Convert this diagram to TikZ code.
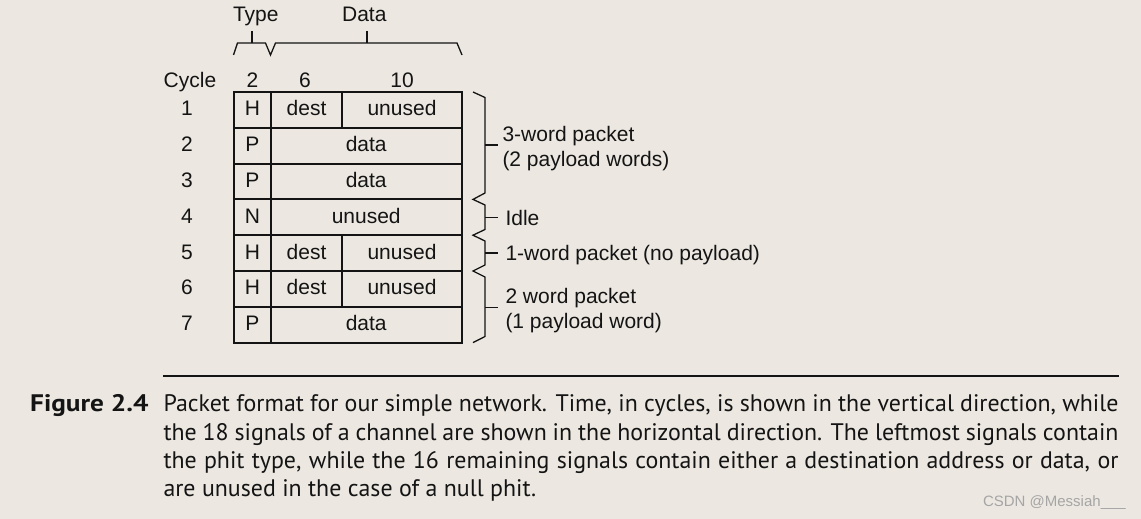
\documentclass[tikz,border=0pt]{standalone}
\usepackage{fontspec}
\setmainfont{Liberation Sans}
\newfontfamily\capfont{PT Sans}
\definecolor{bg}{RGB}{236,232,225}
\definecolor{ink}{RGB}{20,20,20}
\definecolor{wm}{RGB}{165,165,165}
\begin{document}
\begin{tikzpicture}[x=1pt,y=-1pt,
  dfont/.style={font=\fontsize{21}{24}\selectfont},
  lbl/.style={dfont, inner sep=0pt, outer sep=0pt, text height=15pt, text depth=0pt, text=ink},
  cell/.style={lbl, draw=ink, line width=1.9pt, anchor=north west, minimum height=35.8pt, text depth=3pt},
  tcell/.style={cell, minimum width=36.4pt},
  dcell/.style={cell, minimum width=71.6pt},
  ucell/.style={cell, minimum width=119.4pt},
  fcell/.style={cell, minimum width=191pt},
  rlbl/.style={lbl, anchor=west},
  brace/.style={draw=ink, line width=1.3pt, line join=miter},
  captxt/.style={inner sep=0pt, outer sep=0pt, anchor=base west, text=ink, font=\capfont\fontsize{23.9}{29}\selectfont},
]
\fill[bg] (0,0) rectangle (1141,519);
\useasboundingbox (0,0) rectangle (1141,519);

% top labels
\node[lbl] (type) at (255.8,14.2) {Type};
\node[lbl] (data) at (364.3,14.2) {Data};
\node[lbl] (cyc) at (190,80) {Cycle};
\node[lbl] (w2) at (252.5,80) {2};
\node[lbl] (w6) at (305,80) {6};
\node[lbl] (w10) at (402,80) {10};

% top braces
\coordinate (tb1) at (233.5,55);
\coordinate (tb2) at (270.5,55);
\coordinate (tb3) at (462,55);
\coordinate (ttip) at (252,31);
\coordinate (dtip) at (367,31);
\draw[brace] (tb1) -- ++(4,-12) -- (265.5,43) -- (tb2) -- ++(5,-12) -- (457,43) -- (tb3);
\draw[brace] (252,43) -- (ttip);
\draw[brace] (367,43) -- (dtip);

% cycle numbers
\node[lbl] (c1) at (187,108.4) {1};
\node[lbl] (c2) at (187,144.2) {2};
\node[lbl] (c3) at (187,180.0) {3};
\node[lbl] (c4) at (187,215.8) {4};
\node[lbl] (c5) at (187,251.6) {5};
\node[lbl] (c6) at (187,287.4) {6};
\node[lbl] (c7) at (187,323.2) {7};

% table
\node[tcell] (t1) at (234.3,92) {H};
\node[dcell] (d1) at (270.7,92) {dest};
\node[ucell] (u1) at (342.3,92) {unused};
\node[tcell] (t2) at (234.3,127.8) {P};
\node[fcell] (f2) at (270.7,127.8) {data};
\node[tcell] (t3) at (234.3,163.6) {P};
\node[fcell] (f3) at (270.7,163.6) {data};
\node[tcell] (t4) at (234.3,199.4) {N};
\node[fcell] (f4) at (270.7,199.4) {unused};
\node[tcell] (t5) at (234.3,235.2) {H};
\node[dcell] (d5) at (270.7,235.2) {dest};
\node[ucell] (u5) at (342.3,235.2) {unused};
\node[tcell] (t6) at (234.3,271) {H};
\node[dcell] (d6) at (270.7,271) {dest};
\node[ucell] (u6) at (342.3,271) {unused};
\node[tcell] (t7) at (234.3,306.8) {P};
\node[fcell] (f7) at (270.7,306.8) {data};

% right braces
\draw[brace] (473,92) -- (485,97.5) -- (485,193) -- (473,199.4)
             -- (485,205) -- (485,229.5) -- (473,235.2)
             -- (485,241) -- (485,265) -- (473,271)
             -- (485,277) -- (485,336.5) -- (473,342.6);
\coordinate (b1) at (485,145);
\coordinate (b2) at (485,217.3);
\coordinate (b3) at (485,253);
\coordinate (b4) at (485,307.5);
\coordinate (k1) at (498,145);
\coordinate (k2) at (498,217.3);
\coordinate (k3) at (498,253);
\coordinate (k4) at (498,307.5);
\draw[brace] (b1) -- (k1);
\draw[brace] (b2) -- (k2);
\draw[brace] (b3) -- (k3);
\draw[brace] (b4) -- (k4);

\node[rlbl] (r1a) at (502.5,134.2) {3-word packet};
\node[rlbl] (r1b) at (502.5,158.5) {(2 payload words)};
\node[rlbl] (r2) at (505.5,218.3) {Idle};
\node[rlbl] (r3) at (505.5,252.8) {1-word packet (no payload)};
\node[rlbl] (r4a) at (505.5,295.8) {2 word packet};
\node[rlbl] (r4b) at (505.5,320.8) {(1 payload word)};

% caption
\coordinate (rl) at (163,375.5);
\coordinate (rr) at (1119,375.5);
\draw[ink, line width=2pt] (rl) -- (rr);
\node[captxt, anchor=base east, font=\capfont\bfseries\fontsize{23.9}{29}\selectfont] (fig) at (148.5,411.5) {\scalebox{1.14}[1]{Figure 2.4}};
\node[captxt] (cap1) at (163.5,411.5) {\makebox[955pt][s]{Packet format for our simple network. Time, in cycles, is shown in the vertical direction, while}};
\node[captxt] (cap2) at (163.5,440) {\makebox[955pt][s]{the 18 signals of a channel are shown in the horizontal direction. The leftmost signals contain}};
\node[captxt] (cap3) at (163.5,468.3) {\makebox[955pt][s]{the phit type, while the 16 remaining signals contain either a destination address or data, or}};
\node[captxt] (cap4) at (163.5,496.7) {are unused in the case of a null phit.};

% watermark
\node[inner sep=0pt, anchor=east, text=wm, font=\fontsize{15}{18}\selectfont] (wmk) at (1126,503) {CSDN @Messiah\_\_\_};
\end{tikzpicture}
\end{document}
